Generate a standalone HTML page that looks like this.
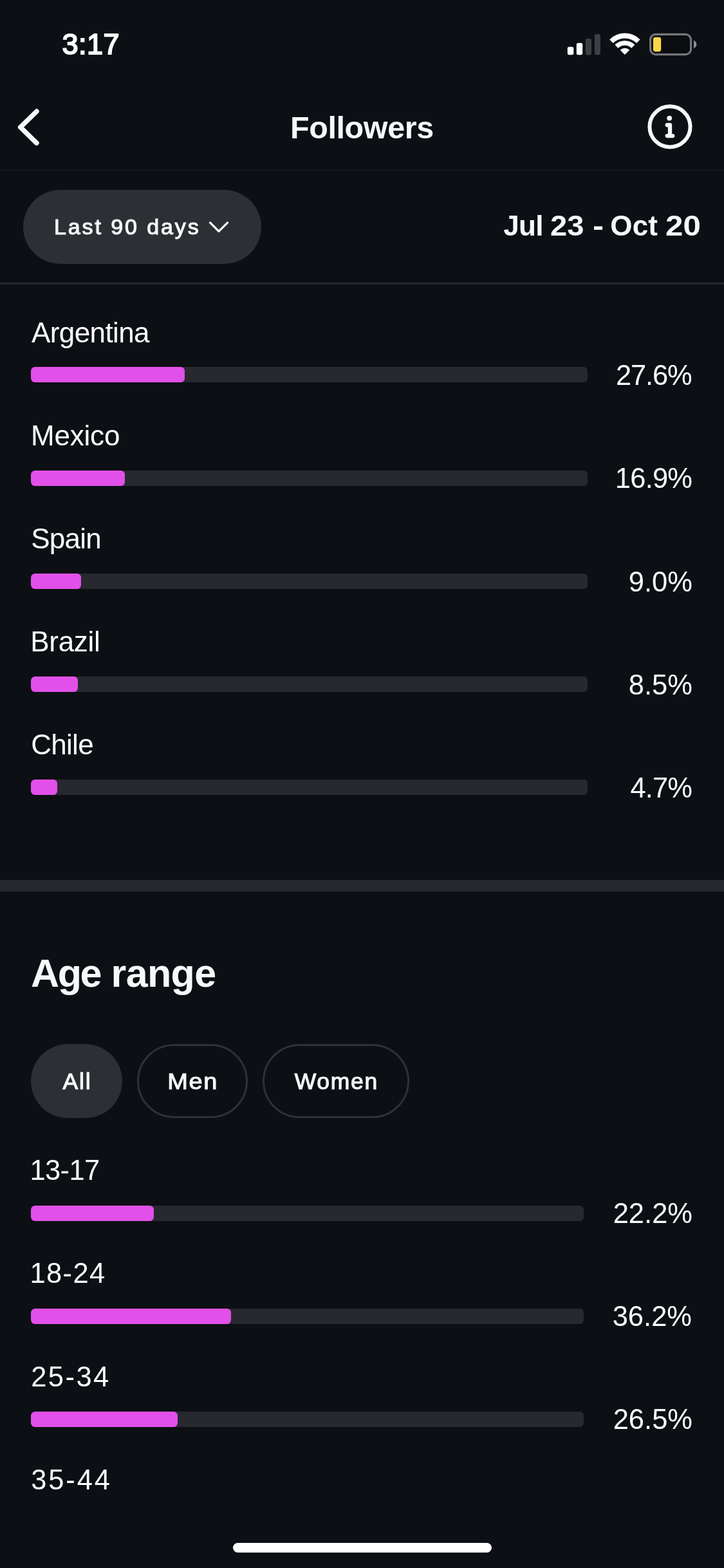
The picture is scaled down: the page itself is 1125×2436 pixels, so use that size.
<!DOCTYPE html>
<html lang="en">
<head>
<meta charset="utf-8">
<meta name="viewport" content="width=1125">
<title>Followers</title>
<style>
*{box-sizing:border-box;margin:0;padding:0}
html,body{width:1125px;height:2436px;overflow:hidden;background:#0c0f14}
body{position:relative;font-family:"Liberation Sans",sans-serif;color:#f7f8f8;-webkit-font-smoothing:antialiased}
.abs{position:absolute}
.t{position:absolute;white-space:nowrap;line-height:1;}
.b{font-weight:700}
.track{position:absolute;left:48px;height:24px;border-radius:6px;background:#27292e;overflow:hidden}
.fill{position:absolute;left:0;top:0;height:24px;border-radius:6.3px;background:#e150e8}
.lbl{font-size:44px;left:49px;color:#fdfdfd}
.lbl.n{font-size:43.5px}
.pct{font-size:43.5px;right:49px;text-align:right;color:#fdfdfd}
.pill{position:absolute;height:115px;border-radius:58px;top:1622px}
.pill span{position:absolute;left:0;right:0;text-align:center;top:40.5px;font-size:35.5px;font-weight:400;-webkit-text-stroke:1.1px #f7f8f8;line-height:1;white-space:nowrap}
</style>
</head>
<body>
<!-- status bar -->
<div class="t" id="time" style="left:96.5px;top:46.4px;font-size:45px;letter-spacing:0.5px;color:#fff;-webkit-text-stroke:1.9px #fff">3:17</div>
<svg class="abs" id="status" style="left:870px;top:40px" width="225" height="60" viewBox="0 0 225 60">
  <rect x="11.8" y="32.7" width="9.5" height="12.45" rx="2.6" fill="#fff"/>
  <rect x="25.8" y="26.66" width="9.4" height="18.5" rx="2.6" fill="#fff"/>
  <rect x="39.95" y="19.9" width="9.1" height="25.25" rx="2.6" fill="#3c4043"/>
  <rect x="54" y="12.97" width="8.9" height="32.2" rx="2.6" fill="#3c4043"/>
  <g fill="none" stroke="#fff">
    <path d="M79.97 24.17 A29.6 29.6 0 0 1 121.83 24.17" stroke-width="7.8"/>
    <path d="M87.96 32.16 A18.3 18.3 0 0 1 113.84 32.16" stroke-width="7.2"/>
  </g>
  <path d="M100.9 45.1 L93.55 37.75 A10.4 10.4 0 0 1 108.25 37.75 Z" fill="#fff"/>
  <rect x="140.56" y="13.44" width="63" height="31.2" rx="8.2" fill="#0a0c0f" stroke="#75777a" stroke-width="3.2"/>
  <rect x="144.96" y="17.76" width="12.24" height="22.4" rx="3.4" fill="#f8d848"/>
  <path d="M208 22.8 v12.4 c2.8 -1.2 4.3 -3.6 4.3 -6.2 s-1.5 -5 -4.3 -6.2z" fill="#8e9093"/>
</svg>
<!-- nav -->
<svg class="abs" style="left:20px;top:160px" width="60" height="76" viewBox="0 0 60 76">
  <path d="M36.9 13.1 L11.7 37.6 L36.9 62.2" fill="none" stroke="#f7f8f8" stroke-width="7.6" stroke-linecap="round" stroke-linejoin="round"/>
</svg>
<div class="t b" id="title" style="left:451px;top:174px;font-size:48.5px;letter-spacing:-0.4px">Followers</div>
<svg class="abs" style="left:1000px;top:156px" width="82" height="82" viewBox="0 0 82 82">
  <circle cx="41" cy="40.85" r="31.6" fill="none" stroke="#f7f8f8" stroke-width="6"/>
  <circle cx="40.2" cy="27.6" r="3.9" fill="#f7f8f8"/>
  <path d="M36.75 38.25 H41 V55.1 M36.75 55.1 H45.25" fill="none" stroke="#f7f8f8" stroke-width="6.3" stroke-linecap="round" stroke-linejoin="round"/>
</svg>
<div class="abs" style="left:0;top:264px;width:1125px;height:1px;background:#20232a"></div>
<!-- filter -->
<div class="abs" style="left:36px;top:295px;width:370px;height:115px;border-radius:58px;background:#2c2f34"></div>
<div class="t" id="last" style="left:84px;top:334.5px;font-size:34px;letter-spacing:2.9px;-webkit-text-stroke:1.1px #f7f8f8">Last 90 days</div>
<svg class="abs" style="left:319px;top:338px" width="42" height="30" viewBox="0 0 42 30">
  <path d="M7.5 7.9 L20.95 21.4 L34.6 7.9" fill="none" stroke="#fbfbfb" stroke-width="3.3" stroke-linecap="round" stroke-linejoin="round"/>
</svg>
<div class="t b" id="date" style="left:0;top:329px;width:1125px;height:44px;font-size:44px">
<span class="abs" style="left:782.3px;letter-spacing:-0.7px">Jul</span>
<span class="abs" style="left:854.9px;transform:scaleX(1.07);transform-origin:0 0">23</span>
<span class="abs" style="left:921.2px;transform:scaleX(1.17);transform-origin:0 0">-</span>
<span class="abs" style="left:948.3px;letter-spacing:0.16px">Oct</span>
<span class="abs" style="left:1034.2px;transform:scaleX(1.12);transform-origin:0 0">20</span>
</div>
<div class="abs" style="left:0;top:439px;width:1125px;height:3px;background:#27292e"></div>

<!-- countries -->
<div class="t lbl" style="top:495.2px;left:49px;letter-spacing:-0.6px">Argentina</div>
<div class="track" style="top:570px;width:865px"><div class="fill" style="width:238.5px"></div></div>
<div class="t pct" style="top:562px;letter-spacing:-1.2px;right:50.6px">27.6%</div>

<div class="t lbl" style="top:655.2px;left:48px;letter-spacing:-0.2px">Mexico</div>
<div class="track" style="top:731px;width:865px"><div class="fill" style="width:146px"></div></div>
<div class="t pct" style="top:722px;letter-spacing:-0.8px;right:49.8px">16.9%</div>

<div class="t lbl" style="top:815.2px;left:48.2px;letter-spacing:-0.75px">Spain</div>
<div class="track" style="top:891px;width:865px"><div class="fill" style="width:78px"></div></div>
<div class="t pct" style="top:883px">9.0%</div>

<div class="t lbl" style="top:975.2px;left:47.3px;letter-spacing:-0.3px">Brazil</div>
<div class="track" style="top:1051px;width:865px"><div class="fill" style="width:73px"></div></div>
<div class="t pct" style="top:1043px">8.5%</div>

<div class="t lbl" style="top:1135.2px;left:48.2px;letter-spacing:-0.7px">Chile</div>
<div class="track" style="top:1211px;width:865px"><div class="fill" style="width:41px"></div></div>
<div class="t pct" style="top:1203px;letter-spacing:-0.9px;right:49.9px">4.7%</div>

<div class="abs" style="left:0;top:1367px;width:1125px;height:18px;background:#26292e"></div>

<!-- age range -->
<div class="t b" id="age" style="left:48px;top:1482px;font-size:61px;letter-spacing:-0.63px"><span style="letter-spacing:-2.35px">Age</span> range</div>
<div class="pill" style="left:48px;width:142px;background:#2c2f34"><span style="letter-spacing:1.85px;left:1.85px">All</span></div>
<div class="pill" style="left:213px;width:172px;border:3px solid #2e3136"><span style="top:37.5px;letter-spacing:1.6px;left:0.6px;transform:scaleX(1.07)">Men</span></div>
<div class="pill" style="left:408px;width:228px;border:3px solid #2e3136"><span style="top:37.5px;letter-spacing:1.65px;left:1.65px">Women</span></div>

<div class="t lbl n" style="top:1797px;left:46.5px;letter-spacing:-0.65px">13-17</div>
<div class="track" style="top:1873px;width:859px"><div class="fill" style="width:191px"></div></div>
<div class="t pct" style="top:1864px">22.2%</div>

<div class="t lbl n" style="top:1957px;left:46.5px;letter-spacing:1.35px">18-24</div>
<div class="track" style="top:2033px;width:859px"><div class="fill" style="width:311px"></div></div>
<div class="t pct" style="top:2024px;right:50px">36.2%</div>

<div class="t lbl n" style="top:2118px;left:48.2px;letter-spacing:2.45px">25-34</div>
<div class="track" style="top:2193px;width:859px"><div class="fill" style="width:228px"></div></div>
<div class="t pct" style="top:2184px">26.5%</div>

<div class="t lbl n" style="top:2278px;left:48.2px;letter-spacing:2.9px">35-44</div>

<div class="abs" style="left:362px;top:2397px;width:402px;height:15px;border-radius:8px;background:#fff"></div>
</body>
</html>
